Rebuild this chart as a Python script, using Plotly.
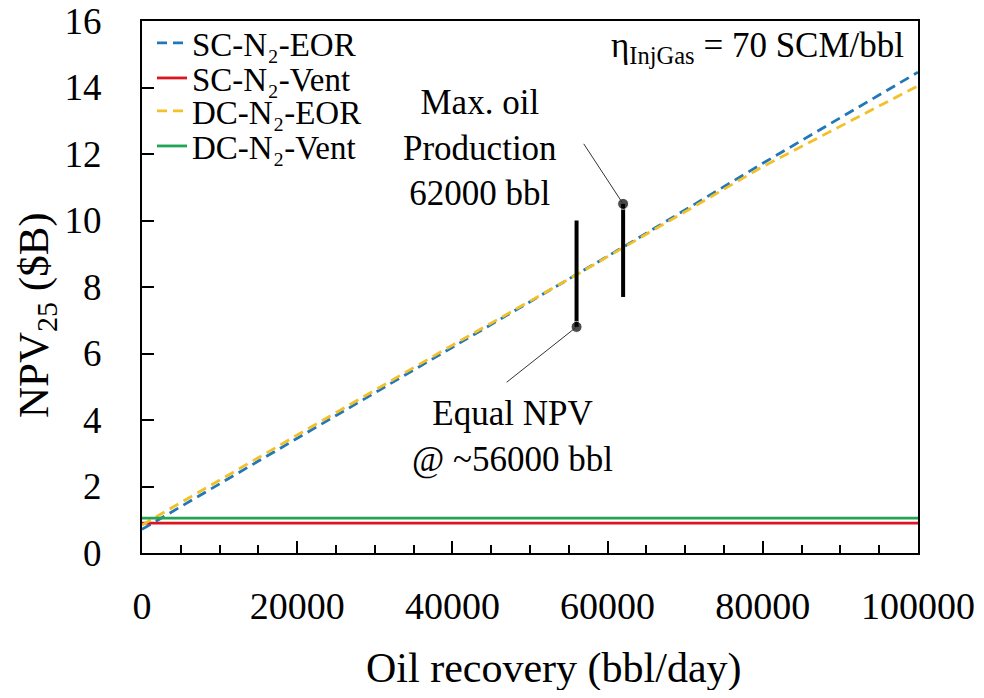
import plotly.graph_objects as go

# Data
oil_recovery = [0, 20000, 40000, 56000, 62000, 80000, 100000]
sc_eor = [0.71, 3.45, 6.2, 8.37, 9.2, 11.72, 14.46]
dc_eor = [0.84, 3.55, 6.25, 8.37, 9.18, 11.62, 14.05]
sc_vent = [0.90] * len(oil_recovery)
dc_vent = [1.05] * len(oil_recovery)

equal_npv_x = [56000, 56000]
equal_npv_y = [6.8, 10.0]
max_oil_x = [62000, 62000]
max_oil_y = [7.7, 10.5]

series_names = ["SC-N₂-EOR", "SC-N₂-Vent", "DC-N₂-EOR", "DC-N₂-Vent"]

FONT = "Liberation Serif"
BLUE = "#2277b6"
RED = "#dc1620"
YELLOW = "#f2c028"
GREEN = "#20a455"

# page body has an 8px margin: figure is sized to fit the 984x698 window
W, H, OFF = 968, 682, 8
PL, PR, PT, PB = 142, 918, 21, 553  # plot area in window pixels


def py(px):
    return (PB - px) / (PB - PT)


def pxp(px):
    return (px - PL) / (PR - PL)


fig = go.Figure()
fig.add_trace(go.Scatter(x=oil_recovery, y=sc_eor, mode="lines", name=series_names[0], legend="legend",
                         line=dict(color=BLUE, width=2.8, dash="10px,6px")))
fig.add_trace(go.Scatter(x=oil_recovery, y=sc_vent, mode="lines", name=series_names[1], legend="legend2",
                         line=dict(color=RED, width=2.8)))
fig.add_trace(go.Scatter(x=oil_recovery, y=dc_eor, mode="lines", name=series_names[2], legend="legend3",
                         line=dict(color=YELLOW, width=2.8, dash="10px,6px")))
fig.add_trace(go.Scatter(x=oil_recovery, y=dc_vent, mode="lines", name=series_names[3], legend="legend4",
                         line=dict(color=GREEN, width=2.8)))

# Black marker bars
fig.add_trace(go.Scatter(x=equal_npv_x, y=equal_npv_y, mode="lines+markers", showlegend=False,
                         line=dict(color="black", width=4),
                         marker=dict(color="black", size=[11, 0])))
fig.add_trace(go.Scatter(x=max_oil_x, y=max_oil_y, mode="lines+markers", showlegend=False,
                         line=dict(color="black", width=4),
                         marker=dict(color="black", size=[0, 11])))

# Leader lines
fig.add_annotation(x=56000, y=6.8, ax=46800, ay=5.1, xref="x", yref="y", axref="x", ayref="y",
                   text="", showarrow=True, arrowhead=0, arrowwidth=1, arrowcolor="#333")
fig.add_annotation(x=62000, y=10.5, ax=56800, ay=12.35, xref="x", yref="y", axref="x", ayref="y",
                   text="", showarrow=True, arrowhead=0, arrowwidth=1, arrowcolor="#333")

fig.add_annotation(x=43560, y=12.18, xref="x", yref="y", text="Max. oil<br>Production<br>62000 bbl",
                   showarrow=False, font=dict(family=FONT, size=35, color="black"), align="center")
fig.add_annotation(x=47680, y=3.49, xref="x", yref="y", text="Equal NPV<br>@ ~56000 bbl",
                   showarrow=False, font=dict(family=FONT, size=35, color="black"), align="center")
fig.add_annotation(x=0.985, y=0.995, xref="paper", yref="paper", xanchor="right", yanchor="top",
                   text="η<sub>InjGas</sub> = 70 SCM/bbl", showarrow=False,
                   font=dict(family=FONT, size=35, color="black"))

# Axis titles as annotations (positioned like the reference)
fig.add_annotation(x=pxp(554), y=py(668), xref="paper", yref="paper", xanchor="center", yanchor="middle",
                   text="Oil recovery (bbl/day)", showarrow=False,
                   font=dict(family=FONT, size=42, color="black"))
fig.add_annotation(x=pxp(37), y=py(315), xref="paper", yref="paper", xanchor="center", yanchor="middle",
                   text="NPV<sub>25</sub> ($B)", showarrow=False, textangle=-90,
                   font=dict(family=FONT, size=43, color="black"))

legend_rows = [43, 78, 111, 146]
leg_common = dict(xanchor="left", yanchor="middle", bgcolor="rgba(0,0,0,0)",
                  font=dict(family=FONT, size=33), itemwidth=30, x=pxp(152))

fig.update_layout(
    width=W, height=H,
    margin=dict(l=PL - OFF, r=W - (PR - OFF), t=PT - OFF, b=H - (PB - OFF), autoexpand=False),
    paper_bgcolor="white", plot_bgcolor="white",
    font=dict(family=FONT, color="black"),
    showlegend=True,
    legend=dict(y=py(legend_rows[0]), **leg_common),
    legend2=dict(y=py(legend_rows[1]), **leg_common),
    legend3=dict(y=py(legend_rows[2]), **leg_common),
    legend4=dict(y=py(legend_rows[3]), **leg_common),
)
fig.update_xaxes(range=[0, 100000], tickvals=[0, 20000, 40000, 60000, 80000, 100000],
                 ticktext=["0", "20000", "40000", "60000", "80000", "100000"],
                 ticks="inside", ticklen=12, tickwidth=2, tickcolor="black", automargin=False,
                 ticklabeloverflow="allow",
                 minor=dict(dtick=5000, ticks="inside", ticklen=8, tickwidth=2, tickcolor="black", showgrid=False),
                 showline=True, linecolor="black", linewidth=2, mirror=True, showgrid=False, zeroline=False,
                 tickfont=dict(family=FONT, size=38), ticklabelstandoff=18)
fig.update_yaxes(range=[0, 16], dtick=2, ticks="inside", ticklen=12, tickwidth=2, tickcolor="black",
                 showline=True, linecolor="black", linewidth=2, mirror=True, showgrid=False, zeroline=False,
                 automargin=False, ticklabeloverflow="allow",
                 tickfont=dict(family=FONT, size=37), ticklabelstandoff=31)

fig.write_html("out.html")
